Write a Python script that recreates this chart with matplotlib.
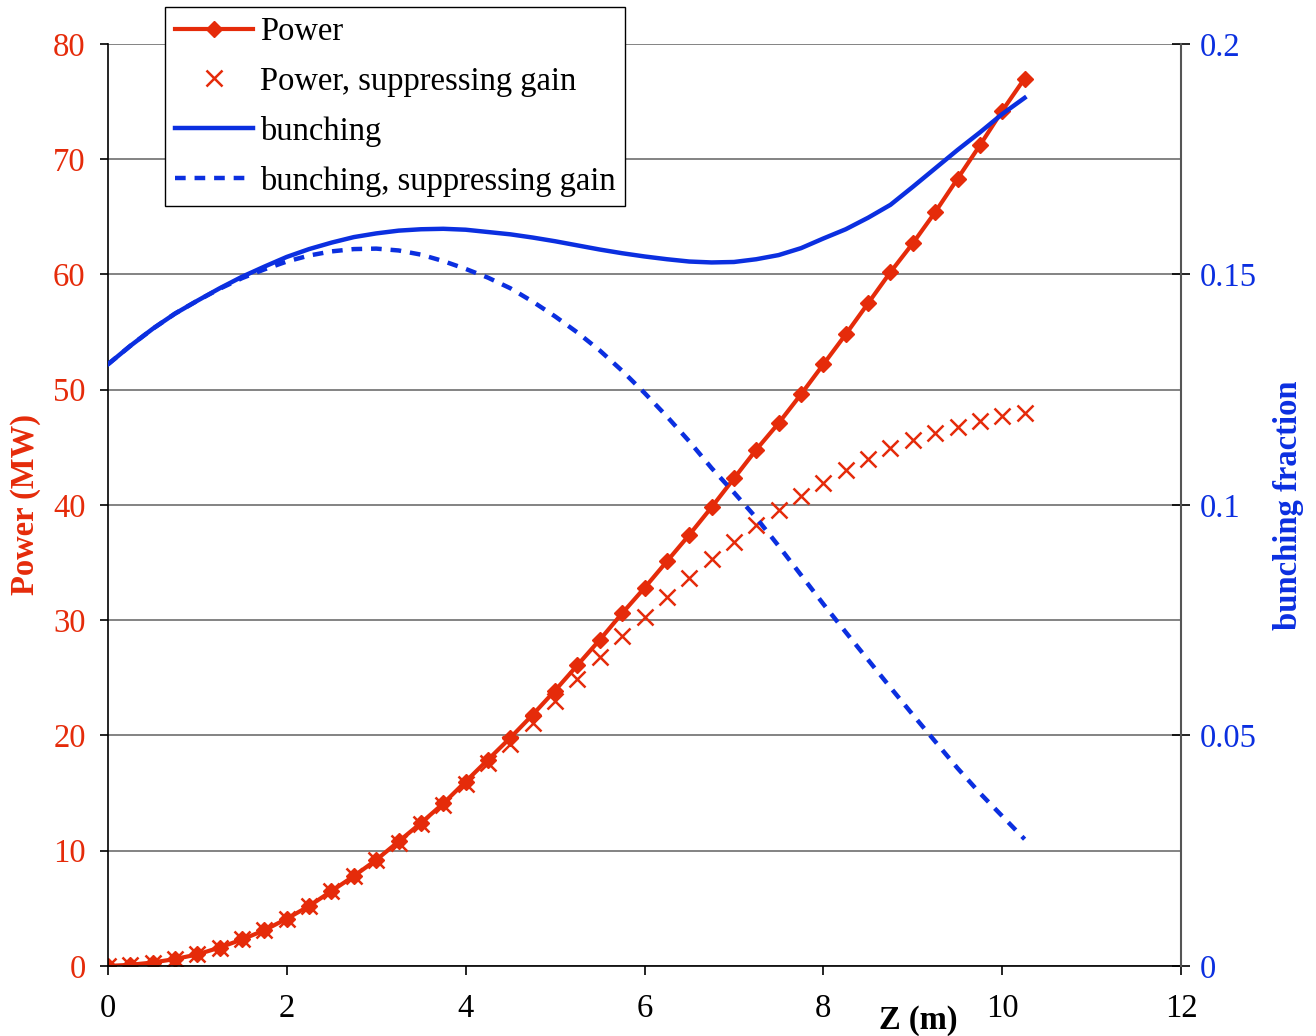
import numpy as np
import matplotlib
matplotlib.use("Agg")
import matplotlib.pyplot as plt
from matplotlib.ticker import FuncFormatter

plt.rcParams["font.family"] = ["Liberation Serif", "DejaVu Serif"]

RED = "#E52B0A"
BLUE = "#0B2FE0"

# undulator position (m)
z = [0.0, 0.25, 0.5, 0.75, 1.0, 1.25, 1.5, 1.75, 2.0, 2.25, 2.5, 2.75, 3.0, 3.25,
     3.5, 3.75, 4.0, 4.25, 4.5, 4.75, 5.0, 5.25, 5.5, 5.75, 6.0, 6.25, 6.5, 6.75,
     7.0, 7.25, 7.5, 7.75, 8.0, 8.25, 8.5, 8.75, 9.0, 9.25, 9.5, 9.75, 10.0, 10.25]

# power (MW)
power = [0.0, 0.1, 0.3, 0.6, 1.0, 1.6, 2.3, 3.1, 4.1, 5.2, 6.5, 7.8, 9.2, 10.8,
         12.4, 14.1, 16.0, 17.9, 19.8, 21.8, 23.9, 26.1, 28.3, 30.6, 32.8, 35.1, 37.4, 39.8,
         42.3, 44.8, 47.1, 49.6, 52.2, 54.8, 57.5, 60.2, 62.7, 65.4, 68.3, 71.2, 74.2, 77.0]

power_supp = [0.0, 0.1, 0.3, 0.6, 1.0, 1.6, 2.3, 3.1, 4.1, 5.2, 6.5, 7.8, 9.2, 10.7,
              12.3, 14.0, 15.8, 17.6, 19.3, 21.1, 23.0, 24.9, 26.8, 28.6, 30.3, 32.0, 33.7, 35.3,
              36.8, 38.3, 39.6, 40.8, 41.9, 43.0, 44.0, 44.9, 45.6, 46.2, 46.8, 47.3, 47.7, 48.0]

# bunching fraction
bunching = [0.1305, 0.1345, 0.1382, 0.1415, 0.1443, 0.1470, 0.1495, 0.1517, 0.1538, 0.1555,
            0.1569, 0.1581, 0.1589, 0.1595, 0.1598, 0.1599, 0.1597, 0.1592, 0.1587, 0.1580,
            0.1572, 0.1563, 0.1554, 0.1546, 0.1539, 0.1533, 0.1528, 0.1526, 0.1527, 0.1533,
            0.1542, 0.1557, 0.1578, 0.1598, 0.1623, 0.1651, 0.1690, 0.1730, 0.1770, 0.1808,
            0.1848, 0.1883]

bunching_supp = [0.1305, 0.1345, 0.1382, 0.1415, 0.1443, 0.1469, 0.1492, 0.1511, 0.1528, 0.1541,
                 0.1550, 0.1555, 0.1556, 0.1552, 0.1543, 0.1529, 0.1512, 0.1493, 0.1470, 0.1441,
                 0.1409, 0.1374, 0.1335, 0.1291, 0.1243, 0.1192, 0.1138, 0.1080, 0.1027, 0.0972,
                 0.0911, 0.0848, 0.0785, 0.0724, 0.0664, 0.0604, 0.0545, 0.0487, 0.0429, 0.0375,
                 0.0325, 0.0275]

x_ticks = [0, 2, 4, 6, 8, 10, 12]
power_ticks = [0, 10, 20, 30, 40, 50, 60, 70, 80]
bunch_ticks = [0, 0.05, 0.1, 0.15, 0.2]

FS = 23.5

fig = plt.figure(figsize=(13.16, 10.36), dpi=100)
ax = fig.add_axes([0.082, 0.0676, 0.8155, 0.89])
ax2 = ax.twinx()

ax.yaxis.grid(True, color="#7a7a7a", lw=1.3)
ax.set_axisbelow(True)

l1, = ax.plot(z, power, color=RED, lw=3, marker="D", ms=8.5, mec=RED, mfc=RED,
              label="Power")
l2, = ax.plot(z, power_supp, ls="none", color=RED, marker="x", ms=11, mew=1.8,
              label="Power, suppressing gain")
l3, = ax2.plot(z, bunching, color=BLUE, lw=3.2, label="bunching")
l4, = ax2.plot(z, bunching_supp, color=BLUE, lw=3.2, ls=(0, (2.4, 2.0)),
               label="bunching, suppressing gain")

ax.set_xlim(0, 12)
ax.set_ylim(0, 80)
ax2.set_ylim(0, 0.2)
ax.set_xticks(x_ticks)
ax.set_yticks(power_ticks)
ax2.set_yticks(bunch_ticks)
ax2.yaxis.set_major_formatter(FuncFormatter(lambda v, p: f"{v:g}"))

for s in ["top", "right"]:
    ax.spines[s].set_visible(False)
for s in ["top", "left", "bottom"]:
    ax2.spines[s].set_visible(False)
ax.spines["left"].set_color("black")
ax.spines["bottom"].set_color("black")
ax.spines["left"].set_linewidth(1.2)
ax.spines["bottom"].set_linewidth(1.2)
ax2.spines["right"].set_color("#555555")
ax2.spines["right"].set_linewidth(1.5)

ax.tick_params(axis="y", direction="out", length=6, width=1.2, colors="black",
               labelcolor=RED, labelsize=FS, pad=10)
ax.tick_params(axis="x", direction="out", length=6.5, width=1.2, colors="black",
               labelcolor="black", labelsize=FS, pad=13)
ax2.tick_params(axis="y", direction="inout", length=13, width=1.2, colors="black",
                labelcolor=BLUE, labelsize=FS, pad=7)

ax.set_xlabel("Z (m)", fontsize=FS, fontweight="bold")
ax.xaxis.set_label_coords(0.755, -0.042)
ax.set_ylabel("Power (MW)", fontsize=FS, fontweight="bold", color=RED)
ax.yaxis.set_label_coords(-0.062, 0.5)
ax2.set_ylabel("bunching fraction", fontsize=FS, fontweight="bold", color=BLUE)
ax2.yaxis.set_label_coords(1.086, 0.5)

leg = ax2.legend(handles=[l1, l2, l3, l4], loc="upper left",
                 bbox_to_anchor=(165 / 1316, 1 - 7 / 1036), bbox_transform=fig.transFigure,
                 borderaxespad=0, fontsize=FS, frameon=True, fancybox=False,
                 framealpha=1, edgecolor="black", borderpad=0.3, labelspacing=0.58,
                 handlelength=2.4, handletextpad=0.2)
leg.get_frame().set_linewidth(1.0)

fig.savefig("out.png", dpi=100)
